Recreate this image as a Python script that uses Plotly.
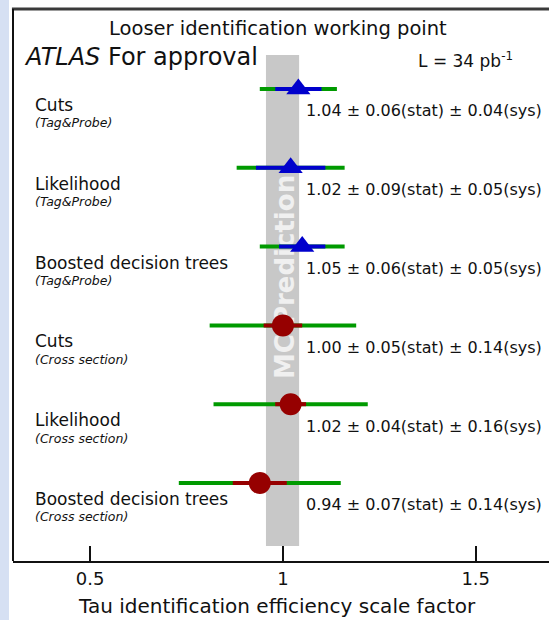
import plotly.graph_objects as go

# ---- data ----
methods = ["Cuts", "Likelihood", "Boosted decision trees",
           "Cuts", "Likelihood", "Boosted decision trees"]
measurements = ["(Tag&Probe)", "(Tag&Probe)", "(Tag&Probe)",
                "(Cross section)", "(Cross section)", "(Cross section)"]
scale_factor = [1.04, 1.02, 1.05, 1.00, 1.02, 0.94]
stat_err = [0.06, 0.09, 0.06, 0.05, 0.04, 0.07]
sys_err = [0.04, 0.05, 0.05, 0.14, 0.16, 0.14]
mc_low, mc_high = 0.956, 1.042
x_ticks = [0.5, 1.0, 1.5]
x_tick_labels = ["0.5", "1", "1.5"]

FONT = "DejaVu Sans"
n = len(methods)
ypos = [n - i for i in range(n)]  # top row first
tp_idx = [i for i in range(n) if "Tag" in measurements[i]]
xs_idx = [i for i in range(n) if "Cross" in measurements[i]]

GREEN = "#009a00"
BLUE = "#0000cc"
RED = "#960000"

fig = go.Figure()

# total (stat + sys) error bars in green
total = [s + y for s, y in zip(stat_err, sys_err)]
fig.add_trace(go.Scatter(
    x=scale_factor, y=ypos, mode="markers",
    marker=dict(size=1, color="rgba(0,0,0,0)"),
    error_x=dict(type="data", array=total, color=GREEN, thickness=4, width=0),
    showlegend=False, hoverinfo="skip"))

# stat error bars + markers
for idx, col, sym, size in [(tp_idx, BLUE, "triangle-up", 21), (xs_idx, RED, "circle", 22)]:
    fig.add_trace(go.Scatter(
        x=[scale_factor[i] for i in idx], y=[ypos[i] for i in idx], mode="markers",
        marker=dict(size=size, color=col, symbol=sym, line=dict(width=0)),
        error_x=dict(type="data", array=[stat_err[i] for i in idx], color=col, thickness=4, width=0),
        showlegend=False))

shapes = [
    # MC prediction band
    dict(type="rect", xref="x", yref="y", x0=mc_low, x1=mc_high, y0=0.2, y1=6.43,
         fillcolor="#c8c8c8", line=dict(width=0), layer="below"),
    # label carrier for "MC Prediction"
    dict(type="rect", xref="x", yref="y", x0=mc_low, x1=mc_high, y0=2.16, y1=5.07,
         fillcolor="rgba(0,0,0,0)", line=dict(width=0), layer="below",
         label=dict(text="MC Prediction", textangle=-90, textposition="middle center",
                    font=dict(family=FONT, size=26, color="#f0f0f0", weight="bold"))),
    # left light-blue strip
    dict(type="rect", xref="paper", yref="paper", x0=-0.03, x1=-0.0075, y0=-0.2, y1=1.1,
         fillcolor="#d6e0f3", line=dict(width=0), layer="below"),
    # frame: top and left lines
    dict(type="line", xref="paper", yref="paper", x0=-0.002, x1=1.05, y0=1.0, y1=1.0,
         line=dict(color="#3a3a3a", width=3)),
    dict(type="line", xref="paper", yref="paper", x0=0.0, x1=0.0, y0=0.0, y1=1.0,
         line=dict(color="#111111", width=2)),
]

ann = []
for i in range(n):
    ann.append(dict(x=0.0373, xref="paper", y=ypos[i], yref="y", yshift=-16,
                    text=methods[i], showarrow=False, xanchor="left", yanchor="middle",
                    font=dict(family=FONT, size=17, color="#111")))
    ann.append(dict(x=0.0373, xref="paper", y=ypos[i], yref="y", yshift=-34,
                    text=measurements[i], showarrow=False, xanchor="left", yanchor="middle",
                    font=dict(family=FONT, size=12.5, color="#111", style="italic")))
    txt = f"{scale_factor[i]:.2f} \u00b1 {stat_err[i]:.2f}(stat) \u00b1 {sys_err[i]:.2f}(sys)"
    ann.append(dict(x=0.543, xref="paper", y=ypos[i], yref="y", yshift=-22,
                    text=txt, showarrow=False, xanchor="left", yanchor="middle",
                    font=dict(family=FONT, size=16, color="#111")))

ann += [
    dict(x=0.494, xref="paper", y=0.9638, yref="paper", text="Looser identification working point",
         showarrow=False, xanchor="center", yanchor="middle",
         font=dict(family=FONT, size=19.5, color="#111")),
    dict(x=0.017, xref="paper", y=0.913, yref="paper",
         text="<i>ATLAS</i> For approval",
         showarrow=False, xanchor="left", yanchor="middle",
         font=dict(family=FONT, size=24, color="#111")),
    dict(x=0.752, xref="paper", y=0.908, yref="paper", text="L = 34 pb<sup>-1</sup>",
         showarrow=False, xanchor="left", yanchor="middle",
         font=dict(family=FONT, size=17, color="#111")),
    dict(x=0.4925, xref="paper", y=-0.0815, yref="paper",
         text="Tau identification efficiency scale factor",
         showarrow=False, xanchor="center", yanchor="middle",
         font=dict(family=FONT, size=20, color="#111")),
]

fig.update_layout(
    width=549, height=620,
    margin=dict(l=13, r=0, t=9, b=59),
    paper_bgcolor="white", plot_bgcolor="white",
    shapes=shapes, annotations=ann,
    font=dict(family=FONT, color="#111"),
    xaxis=dict(range=[0.3, 1.69], tickvals=x_ticks, ticktext=x_tick_labels,
               ticks="inside", ticklen=15, tickwidth=2, tickcolor="#111",
               showline=True, linecolor="#111", linewidth=2, showgrid=False,
               zeroline=False, tickfont=dict(family=FONT, size=18, color="#111"),
               ticklabelstandoff=0, fixedrange=True),
    yaxis=dict(range=[0.01, 7.015], showticklabels=False, ticks="", showgrid=False,
               zeroline=False, showline=False, fixedrange=True),
)

fig.write_html("out.html")
